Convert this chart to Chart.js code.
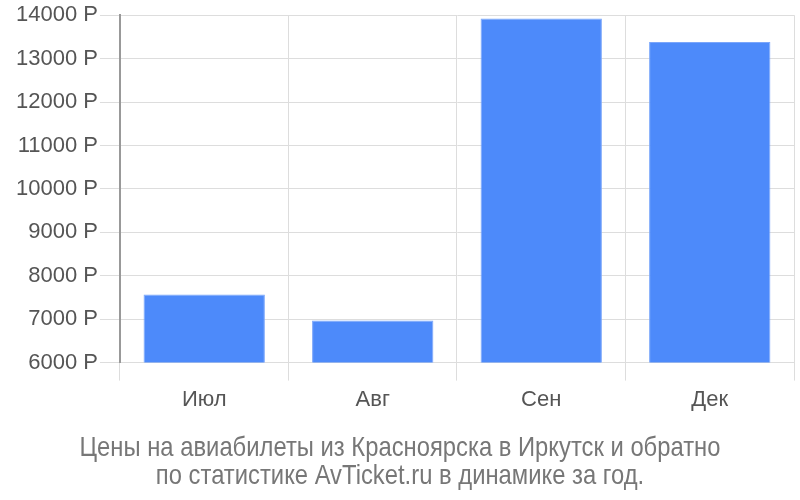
<!DOCTYPE html>
<html lang="ru">
<head>
    <meta charset="UTF-8">
    <title>Цены на авиабилеты</title>
    <script src="https://cdn.jsdelivr.net/npm/chart.js"></script>
    <style>
        html, body { margin: 0; padding: 0; background: #fff; }
        #wrap { width: 800px; height: 500px; }
    </style>
</head>
<body>
    <div id="wrap"><canvas id="myChart"></canvas></div>
    <script>
        const months = ['Июл', 'Авг', 'Сен', 'Дек'];
        const prices = [7570, 6970, 13925, 13385];
        const titleLines = [
            'Цены на авиабилеты из Красноярска в Иркутск и обратно',
            'по статистике AvTicket.ru в динамике за год.'
        ];

        // bottom caption, drawn slightly condensed like the original
        const captionPlugin = {
            id: 'caption',
            afterDraw(chart) {
                const c = chart.ctx;
                c.save();
                c.font = '28px "Liberation Sans", Arial, sans-serif';
                c.fillStyle = '#777777';
                c.textAlign = 'center';
                c.textBaseline = 'middle';
                const sx = 0.85;
                titleLines.forEach((line, i) => {
                    c.setTransform(sx, 0, 0, 1, 400, 448 + i * 28);
                    c.fillText(line, 0, 0);
                });
                c.restore();
            }
        };

        const ctx = document.getElementById('myChart').getContext('2d');
        new Chart(ctx, {
            type: 'bar',
            data: {
                labels: months,
                datasets: [{
                    data: prices,
                    backgroundColor: '#4d8afa',
                    borderColor: '#7aa6fb',
                    borderWidth: 1
                }]
            },
            plugins: [captionPlugin],
            options: {
                responsive: true,
                maintainAspectRatio: false,
                animation: false,
                layout: { padding: { left: 14, right: 6, top: 4, bottom: 81 } },
                scales: {
                    x: {
                        grid: { color: '#dddddd', tickLength: 18, offset: true },
                        border: { color: '#dddddd' },
                        ticks: {
                            color: '#555555',
                            font: { family: 'Liberation Sans, Arial', size: 22 },
                            padding: 6
                        }
                    },
                    y: {
                        min: 6000,
                        max: 14000,
                        grid: { color: '#dddddd', tickLength: 20 },
                        border: { color: '#999999', width: 2 },
                        ticks: {
                            stepSize: 1000,
                            color: '#555555',
                            font: { family: 'Liberation Sans, Arial', size: 22 },
                            padding: 2,
                            callback: v => v + ' Р'
                        }
                    }
                },
                plugins: {
                    legend: { display: false },
                    tooltip: { enabled: false },
                    title: { display: false }
                }
            }
        });
    </script>
</body>
</html>
